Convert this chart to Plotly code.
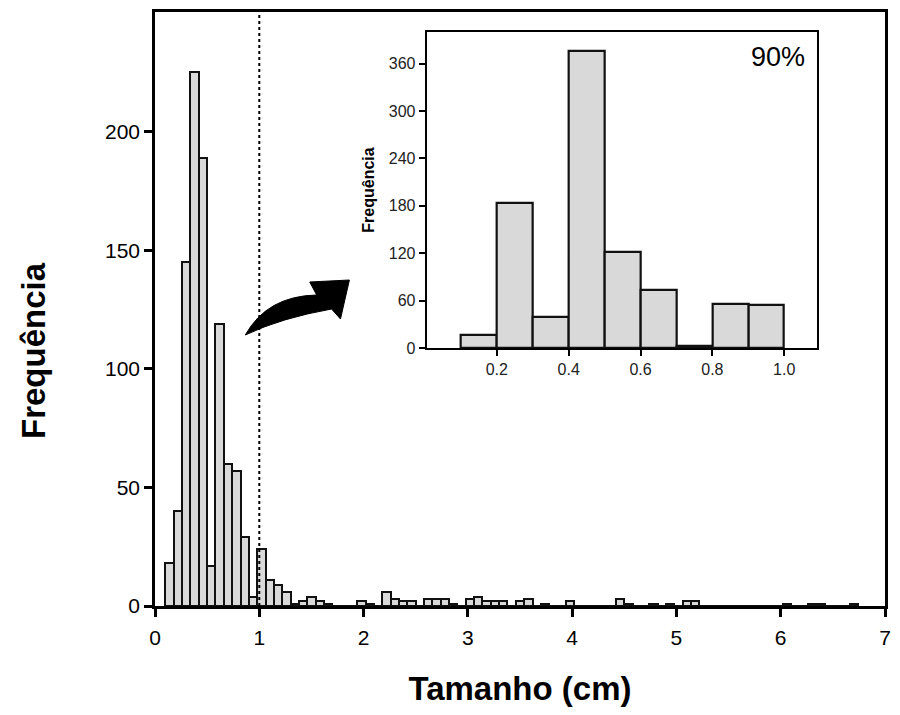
import plotly.graph_objects as go

# ---------------- data ----------------
# main histogram: bins of width 0.08 cm starting at 0.1 cm
bin_start = 0.1
bin_width = 0.08
counts = [18, 40, 145, 225, 189, 17, 119, 60, 57, 29,
          4, 24, 11, 9, 6, 1, 2, 4, 2, 1,
          0, 0, 0, 2, 1, 0, 6, 3, 2, 2,
          0, 3, 3, 3, 1, 0, 3, 4, 2, 2,
          2, 0, 2, 3, 0, 1, 0, 0, 2, 0,
          0, 0, 0, 0, 3, 1, 0, 0, 1, 0,
          1, 0, 2, 2, 0, 0, 0, 0, 0, 0,
          0, 0, 0, 0, 1, 0, 0, 1, 1, 0,
          0, 0, 1]

# inset histogram (sizes up to 1 cm, bins of 0.1 cm)
inset_bins = [0.15, 0.25, 0.35, 0.45, 0.55, 0.65, 0.75, 0.85, 0.95]
inset_counts = [17, 183, 39, 376, 122, 73, 3, 56, 54]

main_xticks = [0, 1, 2, 3, 4, 5, 6, 7]
main_yticks = [0, 50, 100, 150, 200]
inset_xticks = [0.2, 0.4, 0.6, 0.8, 1.0]
inset_xticklabels = ["0.2", "0.4", "0.6", "0.8", "1.0"]
inset_yticks = [0, 60, 120, 180, 240, 300, 360]

centers = [bin_start + bin_width * (i + 0.5) for i in range(len(counts))]

FONT = "Arial, Liberation Sans, sans-serif"
FILL = "#d9d9d9"

fig = go.Figure()
fig.add_trace(go.Bar(
    x=centers, y=counts, width=bin_width,
    marker=dict(color=FILL, line=dict(color="#111111", width=2)),
    xaxis="x", yaxis="y", showlegend=False, hoverinfo="x+y"))

fig.add_trace(go.Bar(
    x=inset_bins, y=inset_counts, width=0.1,
    marker=dict(color=FILL, line=dict(color="#111111", width=2.2)),
    xaxis="x2", yaxis="y2", showlegend=False, hoverinfo="x+y"))

# ---------------- layout ----------------
W, H = 900, 715
L, R, T, B = 155, 9, 12, 109
pw, ph = W - L - R, H - T - B


def px2paper(px, py):
    return (px - L) / pw, (H - B - py) / ph


ix0, iy0 = px2paper(429, 348)
ix1, iy1 = px2paper(822, 32)

fig.update_layout(
    width=W, height=H,
    margin=dict(l=L, r=R, t=T, b=B),
    paper_bgcolor="white", plot_bgcolor="white",
    bargap=0,
    font=dict(family=FONT, color="black"),
    xaxis=dict(
        range=[0, 7], tickvals=main_xticks, showgrid=False, zeroline=False,
        showline=True, linecolor="black", linewidth=2.5, mirror=True,
        ticks="outside", ticklen=8, tickwidth=2.5, tickcolor="black",
        tickfont=dict(size=21, family=FONT), ticklabelstandoff=3,
        title=dict(text="<b>Tamanho (cm)</b>", font=dict(size=33, family=FONT),
                   standoff=29),
    ),
    yaxis=dict(
        range=[0, 250.5], tickvals=main_yticks, showgrid=False, zeroline=False,
        showline=True, linecolor="black", linewidth=2.5, mirror=True,
        ticks="outside", ticklen=8, tickwidth=2.5, tickcolor="black",
        tickfont=dict(size=21, family=FONT),
    ),
    xaxis2=dict(
        domain=[ix0, ix1], anchor="y2", range=[0.005, 1.09],
        tickvals=inset_xticks, ticktext=inset_xticklabels,
        showgrid=False, zeroline=False,
        showline=True, linecolor="black", linewidth=2.2, mirror=True,
        ticks="outside", ticklen=6, tickwidth=2, tickcolor="black",
        tickfont=dict(size=16, family=FONT, color="#222222"),
    ),
    yaxis2=dict(
        domain=[iy0, iy1], anchor="x2", range=[0, 400],
        tickvals=inset_yticks, showgrid=False, zeroline=False,
        showline=True, linecolor="black", linewidth=2.2, mirror=True,
        ticks="outside", ticklen=6, tickwidth=2, tickcolor="black",
        tickfont=dict(size=16, family=FONT, color="#222222"),
        title=dict(text="<b>Frequência</b>", font=dict(size=16, family=FONT),
                   standoff=10),
    ),
)

# main y-axis title (placed slightly below the plot centre, as in the original)
tx, ty = px2paper(32, 351)
fig.add_annotation(text="<b>Frequência</b>", xref="paper", yref="paper",
                   x=tx, y=ty, xanchor="center", yanchor="middle",
                   textangle=-90, showarrow=False,
                   font=dict(size=33, family=FONT, color="black"))

# dotted vertical line at 1 cm
fig.add_shape(type="line", xref="x", yref="paper", x0=1, x1=1, y0=0, y1=1,
              line=dict(color="black", width=2, dash="dot"), layer="above")

# white background behind the inset
fig.add_shape(type="rect", xref="paper", yref="paper",
              x0=ix0, x1=ix1, y0=iy0, y1=iy1,
              fillcolor="white", line=dict(width=0), layer="below")

# curved arrow (decorative)
pts = {
    "tail": (246, 335),
    "c_up": (268, 296),
    "up": (318, 295),
    "h1": (311, 282),
    "tip": (351, 280),
    "h2": (342, 319),
    "low": (333, 309),
    "c_low": (282, 318),
}


def P(name):
    x, y = px2paper(*pts[name])
    return f"{x:.5f},{y:.5f}"


path = (f"M {P('tail')} Q {P('c_up')} {P('up')} L {P('h1')} L {P('tip')} "
        f"L {P('h2')} L {P('low')} Q {P('c_low')} {P('tail')} Z")
fig.add_shape(type="path", xref="paper", yref="paper", path=path,
              fillcolor="black", line=dict(color="black", width=1),
              layer="above")

# 90% label in inset
fig.add_annotation(text="90%", xref="x2 domain", yref="y2 domain",
                   x=0.975, y=0.975, xanchor="right", yanchor="top",
                   showarrow=False, font=dict(size=27, family=FONT, color="black"))

fig.write_html("out.html",
               config={"displayModeBar": False},
               post_script="document.body.style.margin='0';"
                           "document.body.style.overflow='hidden';")
